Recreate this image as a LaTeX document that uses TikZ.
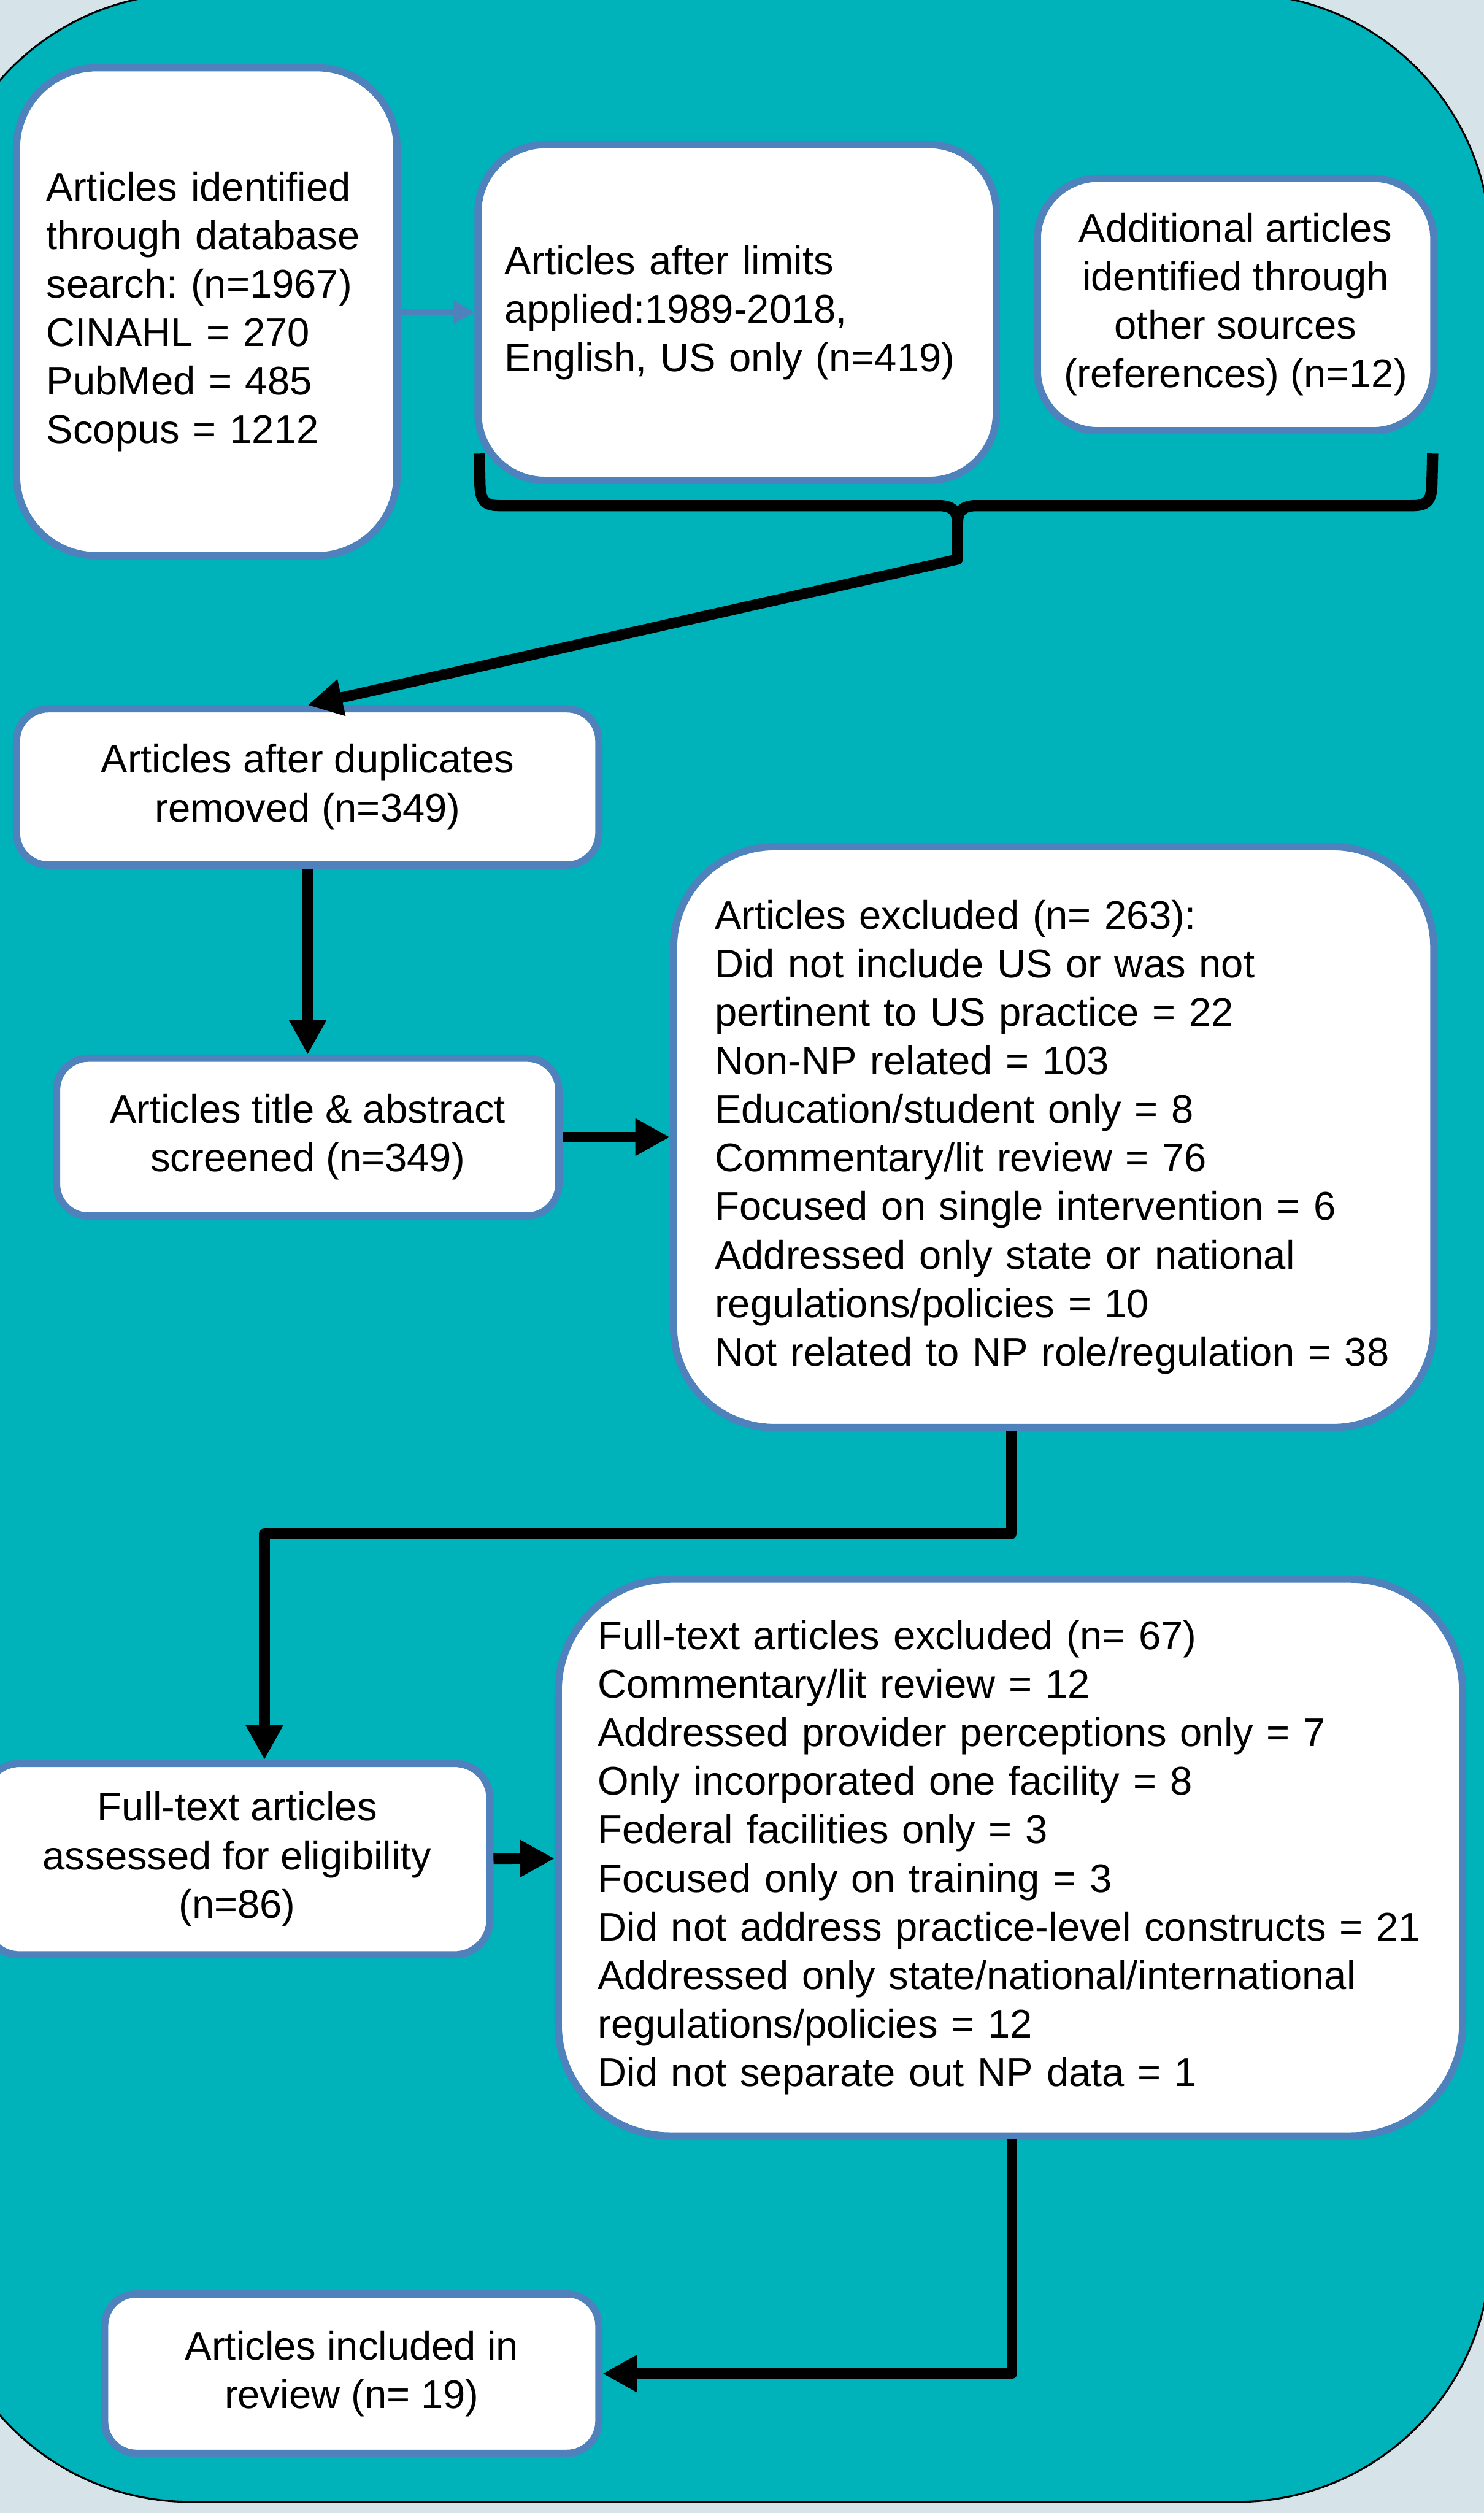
\documentclass[tikz,border=0pt]{standalone}
\usepackage{fontspec}
\setmainfont{Liberation Sans}
\usepackage{xcolor}
\usepackage{tikz}
\usetikzlibrary{arrows.meta}
\frenchspacing
\definecolor{pagebg}{HTML}{D6E4EA}
\definecolor{panel}{HTML}{00B2BA}
\definecolor{edge}{HTML}{4F81BD}
\tikzstyle{box}=[rectangle,draw=edge,fill=white,line width=3.8pt,inner sep=0pt,font=\fontsize{21}{25.5}\selectfont]
\tikzstyle{flow}=[line width=5.6pt,line join=round,-{Triangle[length=0.64cm,width=0.65cm]}]
\tikzstyle{thinflow}=[draw=edge,line width=2.9pt,-{Triangle[length=0.39cm,width=0.42cm]}]
\tikzstyle{bracketline}=[line width=5.9pt,line join=round]

\begin{document}
\begin{tikzpicture}[x=0.02958cm,y=-0.02958cm]
        \clip (0,0) rectangle (926,1568);
        \fill [pagebg] (0,0) rectangle (926,1568);
        \draw [fill=panel,line width=1pt,rounded corners=4.67cm] (-39,-4) rectangle (930,1561);

        \node at (129,194.5) [box,minimum width=7.025cm,minimum height=9.007cm,rounded corners=1.48cm,text width=5.916cm,align=left] (db)
          {Articles identified\\through database\\search: (n=1967)\\CINAHL = 270\\PubMed = 485\\Scopus = 1212};
        \node at (460,195) [box,minimum width=9.569cm,minimum height=6.197cm,rounded corners=1.24cm,text width=8.578cm,align=left] (lim)
          {Articles after limits\\applied:1989-2018,\\English, US only (n=419)};
        \node at (771,190) [box,minimum width=7.321cm,minimum height=4.659cm,rounded corners=1.12cm,align=center] (oth)
          {Additional articles\\identified through\\other sources\\(references) (n=12)};
        \node at (192,491) [box,minimum width=10.752cm,minimum height=2.884cm,rounded corners=0.59cm,align=center] (dup)
          {Articles after duplicates\\removed (n=349)};
        \node at (192,709.5) [box,minimum width=9.273cm,minimum height=2.914cm,rounded corners=0.59cm,align=center] (scr)
          {Articles title \& abstract\\screened (n=349)};
        \node at (657.5,709.5) [box,minimum width=14.036cm,minimum height=10.723cm,rounded corners=1.86cm,text width=12.512cm,align=left] (exc1)
          {Articles excluded (n= 263):\\Did not include US or was not\\pertinent to US practice = 22\\Non-NP related = 103\\Education/student only = 8\\Commentary/lit review = 76\\Focused on single intervention = 6\\Addressed only state or national\\regulations/policies = 10\\Not related to NP role/regulation = 38};
        \node at (148,1160) [box,minimum width=9.332cm,minimum height=3.535cm,rounded corners=0.65cm,align=center] (full)
          {Full-text articles\\assessed for eligibility\\(n=86)};
        \node at (630.5,1159) [box,minimum width=16.698cm,minimum height=10.279cm,rounded corners=2.07cm,text width=15.234cm,align=left] (exc2)
          {Full-text articles excluded (n= 67)\\Commentary/lit review = 12\\Addressed provider perceptions only = 7\\Only incorporated one facility = 8\\Federal facilities only = 3\\Focused only on training = 3\\Did not address practice-level constructs = 21\\Addressed only state/national/international\\regulations/policies = 12\\Did not separate out NP data = 1};
        \node at (219.5,1481) [box,minimum width=9.125cm,minimum height=2.943cm,rounded corners=0.59cm,align=center] (incl)
          {Articles included in\\review (n= 19)};

        % bracket under the two upper boxes
        \draw [bracketline] (299,283) -- (299.5,303) .. controls (300,313) and (303,315.5) .. (312,315.5)
          -- (586,315.5) .. controls (593,315.5) and (597.5,318) .. (597.5,326);
        \draw [bracketline] (894,283) -- (893.5,303) .. controls (893,313) and (890,315.5) .. (881,315.5)
          -- (609,315.5) .. controls (602,315.5) and (597.5,318) .. (597.5,326);
        \coordinate (cusp) at (597.5,325);
        \coordinate (bend) at (597.5,349);
        \coordinate (d1) at (631,957);
        \coordinate (d2) at (165,957);
        \coordinate (d3) at (631.5,1481);

        \draw [thinflow] (db) -- (lim);
        \draw [flow] (cusp) -- (bend) -- (dup.north);
        \draw [flow] (dup) -- (scr);
        \draw [flow] (scr) -- (exc1);
        \draw [flow] (exc1.south -| d1) -- (d1) -- (d2) -- (full.north -| d2);
        \draw [flow] (full) -- (exc2);
        \draw [flow] (exc2.south -| d3) |- (incl.east);
      \end{tikzpicture}
\end{document}
